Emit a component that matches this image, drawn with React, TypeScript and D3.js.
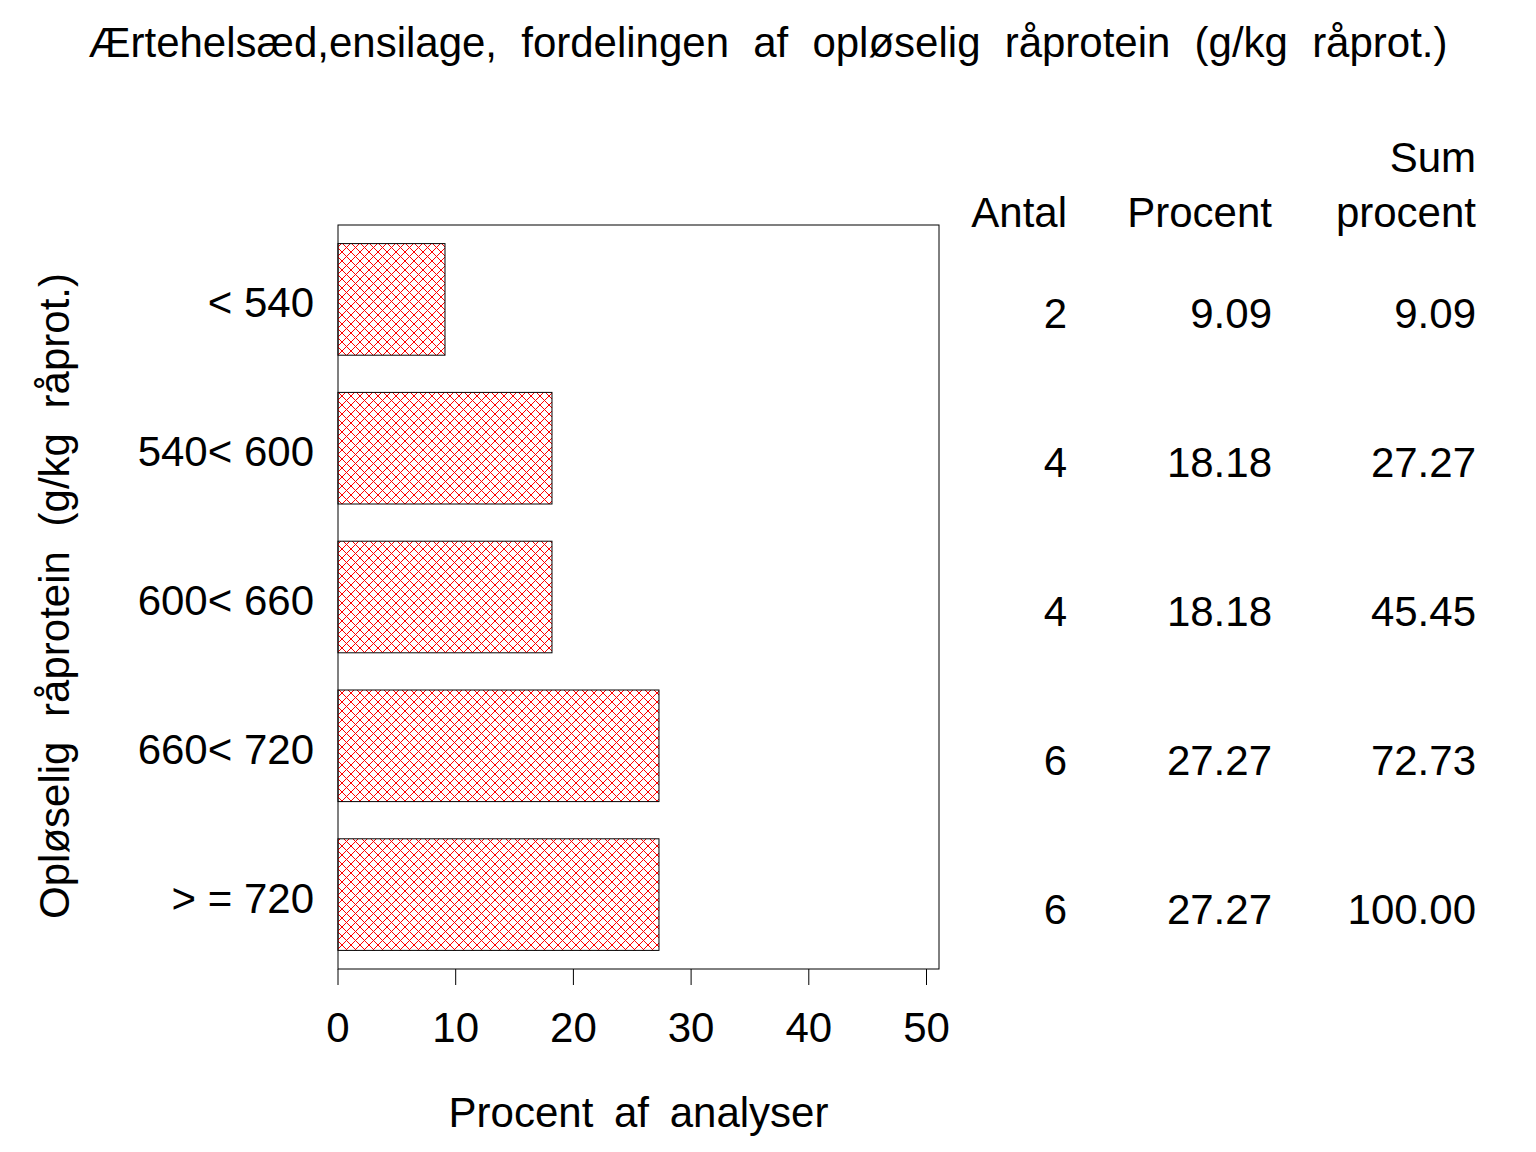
import React from "react";
import * as d3 from "d3";

const WIDTH = 1536;
const HEIGHT = 1152;
const FRAME_LEFT = 338;
const FRAME_RIGHT = 939;
const FRAME_TOP = 225;
const FRAME_BOTTOM = 969;
const FONT = "'Liberation Sans', Arial, Helvetica, sans-serif";
const FS = 42;

const categories = ["< 540", "540< 600", "600< 660", "660< 720", "> = 720"];
const counts = [2, 4, 4, 6, 6];
const percents = [9.09, 18.18, 18.18, 27.27, 27.27];
const cumPercents = ["9.09", "27.27", "45.45", "72.73", "100.00"];
const percentLabels = ["9.09", "18.18", "18.18", "27.27", "27.27"];
const xTicks = [0, 10, 20, 30, 40, 50];

const TITLE = "Ærtehelsæd,ensilage, fordelingen af opløselig råprotein (g/kg råprot.)";
const Y_TITLE = "Opløselig råprotein (g/kg råprot.)";
const X_TITLE = "Procent af analyser";

export default function App() {
  const x = d3.scaleLinear().domain([0, 50]).range([FRAME_LEFT, 926.5]);
  const y = d3
    .scaleBand<string>()
    .domain(categories)
    .range([FRAME_TOP, FRAME_BOTTOM])
    .paddingInner(0.25)
    .paddingOuter(0.125);

  const colAntal = 1067;
  const colProcent = 1272;
  const colSum = 1476;

  return (
    <div style={{ position: "absolute", left: 0, top: 0 }}>
      <svg width={WIDTH} height={HEIGHT} style={{ display: "block", background: "#fff" }}>
        <defs>
          <pattern id="hatch" patternUnits="userSpaceOnUse" width={9} height={9}>
            <path d="M0,0 L9,9 M9,0 L0,9" stroke="#ff0000" strokeWidth={1} fill="none" />
          </pattern>
        </defs>
        <g fontFamily={FONT} fontSize={FS} fill="#000">
          <text x={WIDTH / 2} y={57} textAnchor="middle" wordSpacing={12.5}>
            {TITLE}
          </text>

          {/* frame */}
          <rect
            x={FRAME_LEFT}
            y={FRAME_TOP}
            width={FRAME_RIGHT - FRAME_LEFT}
            height={FRAME_BOTTOM - FRAME_TOP}
            fill="none"
            stroke="#000"
            strokeWidth={1}
          />

          {/* bars */}
          {categories.map((c, i) => (
            <rect
              key={c}
              x={x(0)}
              y={y(c)}
              width={x(percents[i]) - x(0)}
              height={y.bandwidth()}
              fill="url(#hatch)"
              stroke="#000"
              strokeWidth={1}
            />
          ))}

          {/* category labels */}
          {categories.map((c) => (
            <text key={c} x={314} y={(y(c) ?? 0) + y.bandwidth() / 2 + 18} textAnchor="end">
              {c}
            </text>
          ))}

          {/* x axis ticks */}
          {xTicks.map((t) => (
            <g key={t}>
              <line x1={x(t)} x2={x(t)} y1={FRAME_BOTTOM} y2={FRAME_BOTTOM + 16} stroke="#000" strokeWidth={1} />
              <text x={x(t)} y={1042} textAnchor="middle">
                {t}
              </text>
            </g>
          ))}
          <text x={(FRAME_LEFT + FRAME_RIGHT) / 2} y={1127} textAnchor="middle" wordSpacing={9}>
            {X_TITLE}
          </text>

          <text
            transform={`translate(69,${(FRAME_TOP + FRAME_BOTTOM) / 2 - 1}) rotate(-90)`}
            textAnchor="middle"
            wordSpacing={13}
          >
            {Y_TITLE}
          </text>

          {/* table */}
          <text x={colSum} y={172} textAnchor="end">Sum</text>
          <text x={colAntal} y={227} textAnchor="end">Antal</text>
          <text x={colProcent} y={227} textAnchor="end">Procent</text>
          <text x={colSum} y={227} textAnchor="end">procent</text>
          {categories.map((c, i) => {
            const by = (y(c) ?? 0) + y.bandwidth() / 2 + 29;
            return (
              <g key={c}>
                <text x={colAntal} y={by} textAnchor="end">{counts[i]}</text>
                <text x={colProcent} y={by} textAnchor="end">{percentLabels[i]}</text>
                <text x={colSum} y={by} textAnchor="end">{cumPercents[i]}</text>
              </g>
            );
          })}
        </g>
      </svg>
    </div>
  );
}
